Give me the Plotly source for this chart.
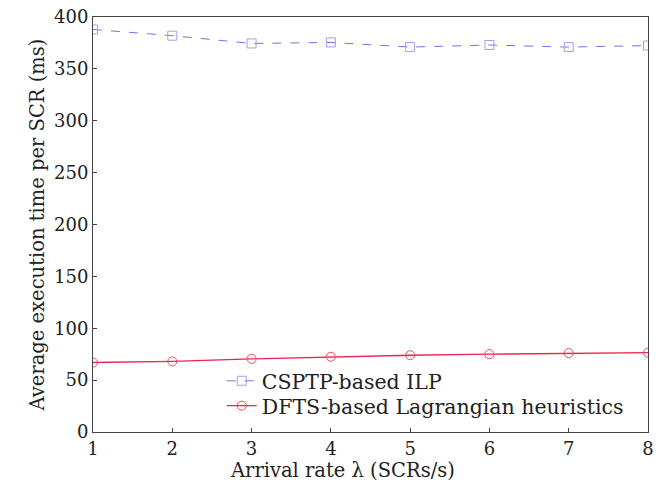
import plotly.graph_objects as go

x_vals = [1, 2, 3, 4, 5, 6, 7, 8]
ilp_vals = [388, 382, 374.5, 375.5, 371, 373, 371, 372.5]
dfts_vals = [67, 68, 70.5, 72.5, 74, 75, 76, 76.5]
x_ticks = [1, 2, 3, 4, 5, 6, 7, 8]
y_ticks = [0, 50, 100, 150, 200, 250, 300, 350, 400]

font_family = "DejaVu Serif, Liberation Serif, serif"

fig = go.Figure()
fig.add_trace(go.Scatter(
    x=x_vals, y=ilp_vals, name="CSPTP-based ILP", mode="lines+markers",
    line=dict(color="#7a6fe6", width=1, dash="dash"),
    marker=dict(symbol="square-open", size=9, color="#a49cf0", line=dict(width=1)),
    legend="legend",
))
fig.add_trace(go.Scatter(
    x=x_vals, y=dfts_vals, name="DFTS-based Lagrangian heuristics", mode="lines+markers",
    line=dict(color="#e8264f", width=1.3),
    marker=dict(symbol="circle-open", size=9, color="#ee4a6c", line=dict(width=1)),
    legend="legend2",
))

axis_common = dict(
    showline=True, linecolor="#444", linewidth=1, mirror=True,
    ticks="inside", ticklen=4, tickcolor="#444", showgrid=False, zeroline=False,
    tickfont=dict(family=font_family, size=18, color="#222"),
    automargin=False,
)

legend_common = dict(
    xanchor="left", yanchor="middle", bgcolor="rgba(255,255,255,0)",
    font=dict(family=font_family, size=20.5), itemwidth=30,
)

fig.update_layout(
    width=664, height=494,
    margin=dict(l=93, r=16, t=17, b=62),
    plot_bgcolor="white", paper_bgcolor="white",
    font=dict(family=font_family, color="#222"),
    xaxis=dict(range=[1, 8], tickvals=x_ticks, **axis_common),
    yaxis=dict(range=[0, 400], tickvals=y_ticks,
               title=dict(text="Average execution time per SCR (ms)", font=dict(family=font_family, size=19.5), standoff=4),
               **axis_common),
    legend=dict(x=0.232, y=0.123, **legend_common),
    legend2=dict(x=0.232, y=0.063, **legend_common),
    showlegend=True,
    annotations=[dict(
        text="Arrival rate λ (SCRs/s)", xref="paper", yref="paper",
        x=0.449, y=-0.093, xanchor="center", yanchor="middle", showarrow=False,
        font=dict(family=font_family, size=19.5, color="#222"),
    )],
)

fig.write_html("out.html", config={"displayModeBar": False},
               post_script="document.body.style.margin='0';document.body.style.overflow='hidden';")
